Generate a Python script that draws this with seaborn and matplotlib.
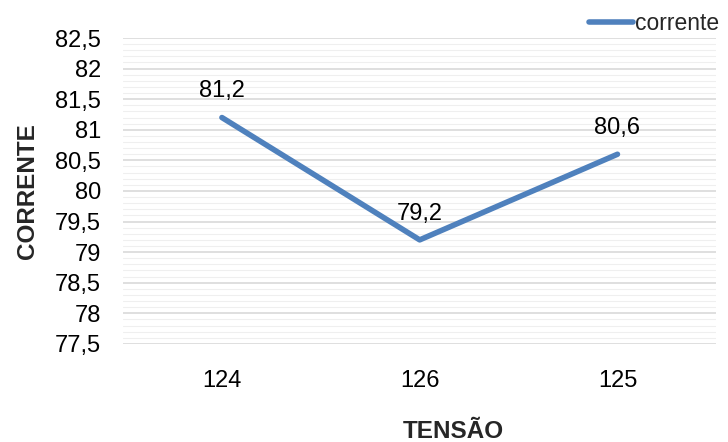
import pandas as pd
import matplotlib.pyplot as plt
import seaborn as sns
from matplotlib.ticker import MultipleLocator, FuncFormatter

tensao = ["124", "126", "125"]
corrente = [81.2, 79.2, 80.6]

df = pd.DataFrame({"tensao": tensao, "corrente": corrente})

sns.set_style("white")
plt.rcParams["font.family"] = ["Liberation Sans", "DejaVu Sans"]

fig = plt.figure(figsize=(7.28, 4.42), dpi=100)
ax = fig.add_axes([0.169, 0.222, 0.815, 0.692])

sns.lineplot(data=df, x="tensao", y="corrente", ax=ax, color="#4f81bd",
             linewidth=4, label="corrente", sort=False)

for i, v in enumerate(corrente):
    ax.annotate(f"{v:.1f}".replace(".", ","), (i, v), xytext=(0, 11),
                textcoords="offset points", ha="center", va="bottom",
                fontsize=17, color="black")

ax.set_xlim(-0.5, 2.5)
ax.set_ylim(77.5, 82.5)
ax.yaxis.set_major_locator(MultipleLocator(0.5))
ax.yaxis.set_minor_locator(MultipleLocator(0.1))
ax.yaxis.set_major_formatter(FuncFormatter(lambda v, p: f"{v:g}".replace(".", ",")))
ax.grid(axis="y", which="major", color="#d9d9d9", linewidth=1.2)
ax.grid(axis="y", which="minor", color="#efefef", linewidth=0.8)
ax.set_axisbelow(True)
for s in ax.spines.values():
    s.set_visible(False)
ax.tick_params(axis="both", which="both", length=0, labelsize=17, colors="black")
ax.tick_params(axis="x", pad=19)
ax.tick_params(axis="y", pad=16)

ax.set_xlabel("")
ax.set_ylabel("CORRENTE", fontsize=17.5, fontweight="bold", labelpad=11)
fig.text(453 / 728, 1 - 431 / 442, "TENSÃO", fontsize=17.5, fontweight="bold",
         ha="center", va="center")

leg = ax.legend(loc="upper right", bbox_to_anchor=(1.02, 1.115), frameon=False,
                fontsize=16.5, handlelength=1.9, handletextpad=0.1, borderaxespad=0)

fig.savefig("out.png", dpi=100)
